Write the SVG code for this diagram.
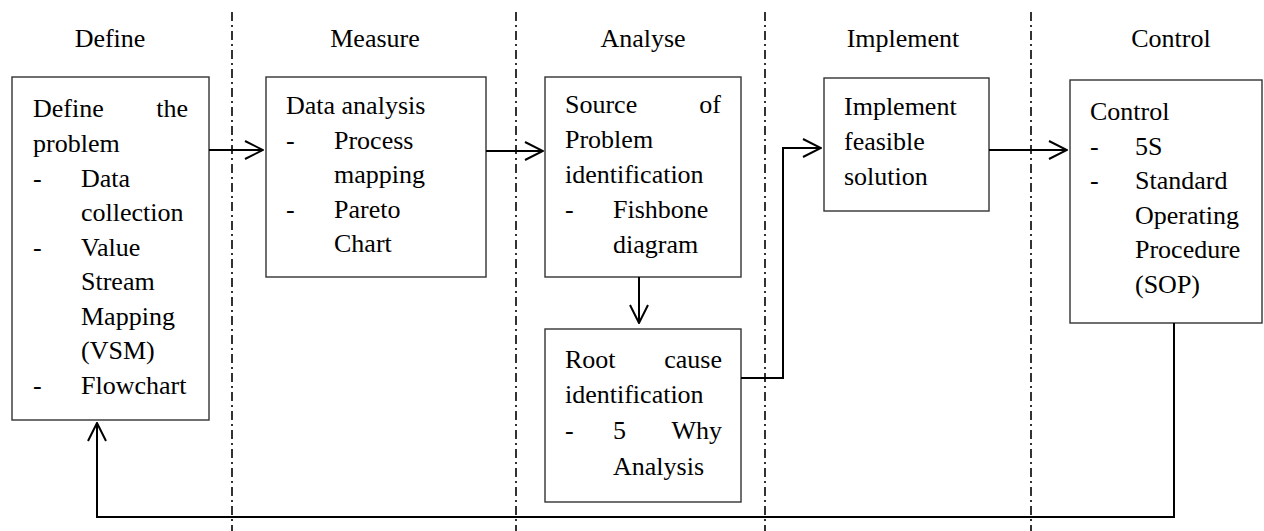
<svg xmlns="http://www.w3.org/2000/svg" width="1264" height="531" viewBox="0 0 1264 531">
<style>
text{font-family:'Liberation Serif','Times New Roman',serif;font-size:26px;fill:#000}
.h{text-anchor:middle}
.e{text-anchor:end}
.box{fill:#fff;stroke:#333;stroke-width:1.4}
.div{stroke:#000;stroke-width:1.6;stroke-dasharray:9 4 2 4;fill:none}
.con{stroke:#000;stroke-width:2;fill:none}
</style>
<defs>
<marker id="ah" viewBox="0 0 20 20" refX="19" refY="10" markerWidth="20" markerHeight="20" markerUnits="userSpaceOnUse" orient="auto">
<path d="M1,1 L19,10 L1,19" fill="none" stroke="#000" stroke-width="2"/>
</marker>
</defs>
<rect width="1264" height="531" fill="#fff"/>
<g id="dividers">
<line class="div" x1="232" y1="12" x2="232" y2="531"/>
<line class="div" x1="516" y1="12" x2="516" y2="531"/>
<line class="div" x1="765" y1="12" x2="765" y2="531"/>
<line class="div" x1="1031" y1="12" x2="1031" y2="531"/>
</g>
<g id="headers">
<text class="h" x="110" y="47">Define</text>
<text class="h" x="375" y="47">Measure</text>
<text class="h" x="643" y="47">Analyse</text>
<text class="h" x="903" y="47">Implement</text>
<text class="h" x="1171" y="47">Control</text>
</g>
<g id="define">
<rect class="box" x="12" y="77" width="197" height="343"/>
<text x="33" y="117">Define</text><text class="e" x="188" y="117">the</text>
<text x="33" y="152">problem</text>
<text x="33" y="187">-</text><text x="81" y="187">Data</text>
<text x="81" y="221">collection</text>
<text x="33" y="256">-</text><text x="81" y="256">Value</text>
<text x="81" y="290">Stream</text>
<text x="81" y="325">Mapping</text>
<text x="81" y="359">(VSM)</text>
<text x="33" y="394">-</text><text x="81" y="394">Flowchart</text>
</g>
<g id="measure">
<rect class="box" x="266" y="77" width="220" height="200"/>
<text x="286" y="114">Data analysis</text>
<text x="286" y="149">-</text><text x="334" y="149">Process</text>
<text x="334" y="183">mapping</text>
<text x="286" y="218">-</text><text x="334" y="218">Pareto</text>
<text x="334" y="252">Chart</text>
</g>
<g id="source">
<rect class="box" x="545" y="77" width="196" height="200"/>
<text x="565" y="113">Source</text><text class="e" x="721" y="113">of</text>
<text x="565" y="148">Problem</text>
<text x="565" y="183">identification</text>
<text x="565" y="218">-</text><text x="613" y="218">Fishbone</text>
<text x="613" y="253">diagram</text>
</g>
<g id="rootcause">
<rect class="box" x="545" y="329" width="196" height="173"/>
<text x="565" y="368">Root</text><text class="e" x="722" y="368">cause</text>
<text x="565" y="403">identification</text>
<text x="565" y="439">-</text><text x="613" y="439">5</text><text class="e" x="722" y="439">Why</text>
<text x="613" y="475">Analysis</text>
</g>
<g id="implement">
<rect class="box" x="824" y="78" width="165" height="133"/>
<text x="844" y="115">Implement</text>
<text x="844" y="150">feasible</text>
<text x="844" y="185">solution</text>
</g>
<g id="control">
<rect class="box" x="1070" y="80" width="192" height="243"/>
<text x="1090" y="120">Control</text>
<text x="1090" y="155">-</text><text x="1135" y="155">5S</text>
<text x="1090" y="189">-</text><text x="1135" y="189">Standard</text>
<text x="1135" y="224">Operating</text>
<text x="1135" y="258">Procedure</text>
<text x="1135" y="293">(SOP)</text>
</g>
<g id="connectors">
<path class="con" d="M209,150 L263,150" marker-end="url(#ah)"/>
<path class="con" d="M486,151 L543,151" marker-end="url(#ah)"/>
<path class="con" d="M639,277 L639,323" marker-end="url(#ah)"/>
<path class="con" d="M741,378 L783,378 L783,148 L821,148" marker-end="url(#ah)"/>
<path class="con" d="M989,150 L1067,150" marker-end="url(#ah)"/>
<path class="con" d="M1174,323 L1174,517 L97,517 L97,423" stroke-width="2.4" marker-end="url(#ah)"/>
</g>
</svg>
